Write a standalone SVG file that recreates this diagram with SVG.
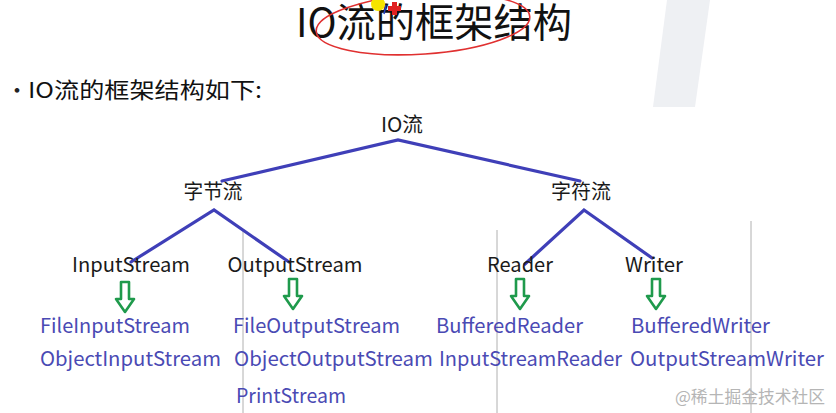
<svg xmlns="http://www.w3.org/2000/svg" width="836" height="413" viewBox="0 0 836 413">
<defs>
<style>
text{font-family:"Noto Sans CJK SC","Noto Sans",sans-serif;}
.node{font-size:20px;fill:#1a1a1a;text-anchor:middle;}
.leaf{font-size:20px;fill:#4a4ab4;}
.edge{stroke:#3f3fb8;stroke-width:3.2;stroke-linecap:round;fill:none;}
.grid{stroke:#b0b0b0;stroke-width:1;}
.harrow{fill:none;stroke:#1f9a4c;stroke-width:2.6;stroke-linejoin:round;}
</style>
<path id="ha" d="M-4,0 H4 V17 H9 L0,30 L-9,17 H-4 Z"/>
</defs>
<rect width="836" height="413" fill="#ffffff"/>
<polygon points="667,0 710,0 695,107 653,107" fill="#eef0f3"/>
<g id="grid">
<line class="grid" x1="243" y1="230" x2="243" y2="413"/>
<line class="grid" x1="497" y1="230" x2="497" y2="413"/>
<line class="grid" x1="751" y1="221" x2="751" y2="413"/>
</g>
<g id="title">
<text x="296" y="37" font-size="40" fill="#111" textLength="276" lengthAdjust="spacingAndGlyphs">IO流的框架结构</text>
<ellipse cx="423" cy="24" rx="107" ry="30" fill="none" stroke="#e03030" stroke-width="1.6" transform="rotate(-4 423 24)"/>
<circle cx="378" cy="4" r="7" fill="#f5e400"/>
<path d="M392,2 h5 v4 h4 v5 h-4 v4 h-5 v-4 h-4 v-5 h4 z" fill="#e02020"/>
<line x1="386" y1="5" x2="384" y2="14" stroke="#2040c0" stroke-width="1.5"/>
</g>
<g id="bullet">
<text x="6" y="98" font-size="22" fill="#222">·</text>
<text x="28" y="98" font-size="22" fill="#111" textLength="234" lengthAdjust="spacingAndGlyphs">IO流的框架结构如下:</text>
</g>
<g id="connectors">
<polyline class="edge" points="222,181 398,140 580,181"/>
<polyline class="edge" points="131,262 214,210 289,262"/>
<polyline class="edge" points="525,264 584,210 652,258"/>
<use href="#ha" class="harrow" x="125" y="282"/>
<use href="#ha" class="harrow" x="293" y="279"/>
<use href="#ha" class="harrow" x="520" y="279"/>
<use href="#ha" class="harrow" x="656" y="279"/>
</g>
<g id="n-io"><text class="node" x="402" y="132" textLength="42" lengthAdjust="spacingAndGlyphs">IO流</text></g>
<g id="n-byte"><text class="node" x="213" y="199" textLength="59" lengthAdjust="spacingAndGlyphs">字节流</text></g>
<g id="n-char"><text class="node" x="581" y="199" textLength="60" lengthAdjust="spacingAndGlyphs">字符流</text></g>
<g id="n-in"><text class="node" x="131" y="272" textLength="118" lengthAdjust="spacingAndGlyphs">InputStream</text></g>
<g id="n-out"><text class="node" x="295" y="272" textLength="135" lengthAdjust="spacingAndGlyphs">OutputStream</text></g>
<g id="n-reader"><text class="node" x="520" y="272" textLength="66" lengthAdjust="spacingAndGlyphs">Reader</text></g>
<g id="n-writer"><text class="node" x="654" y="272" textLength="58" lengthAdjust="spacingAndGlyphs">Writer</text></g>
<g id="l-in">
<text class="leaf" x="40" y="333" textLength="150" lengthAdjust="spacingAndGlyphs">FileInputStream</text>
<text class="leaf" x="40" y="366" textLength="181" lengthAdjust="spacingAndGlyphs">ObjectInputStream</text>
</g>
<g id="l-out">
<text class="leaf" x="233" y="333" textLength="167" lengthAdjust="spacingAndGlyphs">FileOutputStream</text>
<text class="leaf" x="234" y="366" textLength="199" lengthAdjust="spacingAndGlyphs">ObjectOutputStream</text>
<text class="leaf" x="236" y="403" textLength="110" lengthAdjust="spacingAndGlyphs">PrintStream</text>
</g>
<g id="l-reader">
<text class="leaf" x="436" y="333" textLength="147" lengthAdjust="spacingAndGlyphs">BufferedReader</text>
<text class="leaf" x="439" y="366" textLength="183" lengthAdjust="spacingAndGlyphs">InputStreamReader</text>
</g>
<g id="l-writer">
<text class="leaf" x="631" y="333" textLength="139" lengthAdjust="spacingAndGlyphs">BufferedWriter</text>
<text class="leaf" x="630" y="366" textLength="194" lengthAdjust="spacingAndGlyphs">OutputStreamWriter</text>
</g>
<g id="watermark"><text x="675" y="403" font-size="17" fill="#b5b5b5" textLength="150" lengthAdjust="spacingAndGlyphs">@稀土掘金技术社区</text></g>
</svg>
